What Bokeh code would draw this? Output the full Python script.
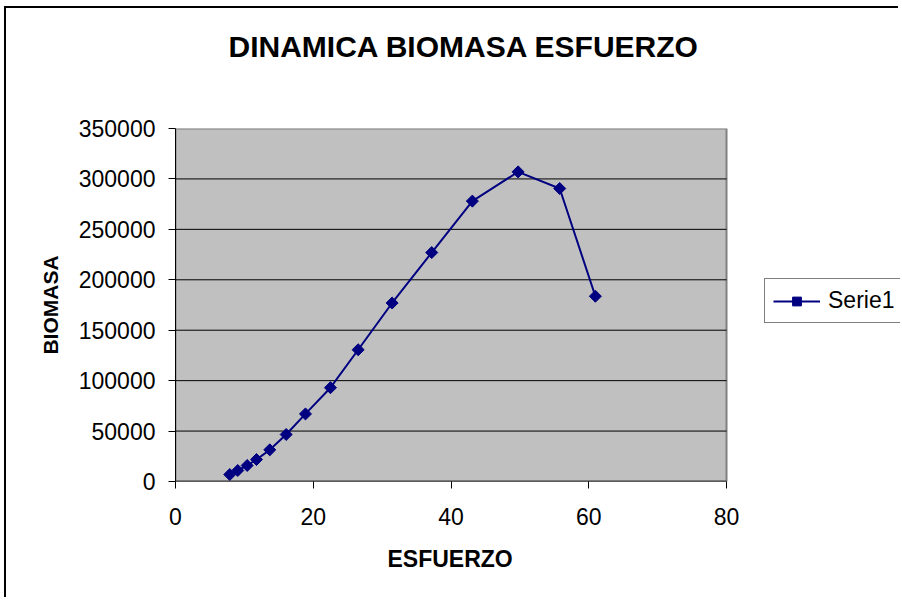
import math
from bokeh.plotting import figure
from bokeh.models import Range1d, FixedTicker, Legend, LegendItem, BasicTickFormatter, Title
from bokeh.embed import file_html
from bokeh.resources import INLINE

esfuerzo = [7.88, 9.04, 10.41, 11.76, 13.69, 16.07, 18.87, 22.5, 26.52, 31.45,
            37.2, 43.1, 49.74, 55.78, 60.96]
biomasa = [6900, 10900, 15900, 21800, 31400, 46600, 67000, 93000, 130600, 177000,
           227000, 278000, 307000, 290500, 183700]
x_ticks = [0, 20, 40, 60, 80]
y_ticks = [0, 50000, 100000, 150000, 200000, 250000, 300000, 350000]

FONT = "Liberation Sans"
NAVY = "#000080"

X_MAX = 80
Y_MAX = 350000
# frame runs past the plot area so the legend (drawn inside the frame) is not clipped
X_VIEW_END = 105.26

p = figure(width=894, height=591, output_backend="svg", toolbar_location=None,
           x_range=Range1d(0, X_VIEW_END), y_range=Range1d(0, Y_MAX),
           min_border_left=169, min_border_right=0, min_border_top=120, min_border_bottom=118)
p.styles = {"border-left": "2px solid black", "border-top": "2px solid black",
            "margin-left": "4px", "margin-top": "6px"}

p.title.text = "DINAMICA BIOMASA ESFUERZO"
p.title.align = "left"
p.title.offset = 53
p.title.standoff = 6
p.title.text_font = FONT
p.title.text_font_size = "30px"
p.title.text_font_style = "bold"
p.title.text_color = "black"

# spacer between the title and the plot area
spacer = Title(text=" ", text_font_size="1px", standoff=60)
p.add_layout(spacer, "above")

p.background_fill_color = "white"
p.border_fill_color = "white"
p.outline_line_color = None

p.xgrid.grid_line_color = None
p.ygrid.grid_line_color = None

# plot area
p.quad(left=[0], right=[X_MAX], bottom=[0], top=[Y_MAX],
       fill_color="#C0C0C0", line_color="#808080", line_width=2)
# horizontal gridlines at the y ticks
p.segment(x0=[0] * (len(y_ticks) - 2), x1=[X_MAX] * (len(y_ticks) - 2),
          y0=y_ticks[1:-1], y1=y_ticks[1:-1], line_color="black", line_width=1)
# x axis line along the plot area only
p.segment(x0=[0], x1=[X_MAX], y0=[0], y1=[0], line_color="black", line_width=1.5)

for ax in (p.xaxis[0], p.yaxis[0]):
    ax.major_label_text_font = FONT
    ax.major_label_text_font_size = "23px"
    ax.major_label_text_color = "black"
    ax.axis_line_color = "black"
    ax.major_tick_line_color = "black"
    ax.major_tick_in = 0
    ax.major_tick_out = 7
    ax.minor_tick_line_color = None
    ax.axis_label_text_font = FONT
    ax.axis_label_text_font_style = "bold"
    ax.axis_label_text_color = "black"

p.xaxis.axis_line_color = None
p.yaxis.axis_label_text_font_size = "21px"
p.xaxis.ticker = FixedTicker(ticks=x_ticks)
p.yaxis.ticker = FixedTicker(ticks=y_ticks)
p.yaxis.formatter = BasicTickFormatter(use_scientific=False)
p.yaxis.axis_label = "BIOMASA"
p.xaxis.major_label_standoff = 19
p.yaxis.major_label_standoff = 13
p.yaxis.axis_label_standoff = 14

# x-axis title, placed below the axis so it can be centred on the plot area
xlabel = Title(text="ESFUERZO", align="left", offset=212, standoff=32,
               text_font=FONT, text_font_size="23px", text_font_style="bold",
               text_color="black")
p.add_layout(xlabel, "below")

ln = p.line(esfuerzo, biomasa, line_color=NAVY, line_width=2)
sc = p.scatter(esfuerzo, biomasa, marker="square", angle=math.pi / 4, size=8.5,
               fill_color=NAVY, line_color=NAVY, line_width=1)

legend = Legend(items=[LegendItem(label="Serie1", renderers=[ln, sc])],
                location=(589, 158), orientation="vertical",
                border_line_color="black", border_line_width=1,
                label_text_font=FONT, label_text_font_size="23px", label_text_color="black",
                glyph_width=47, glyph_height=22, label_height=22,
                label_standoff=8, padding=8, margin=0, spacing=0,
                background_fill_color="white")
p.add_layout(legend, "center")

open("out.html", "w").write(file_html(p, INLINE))
